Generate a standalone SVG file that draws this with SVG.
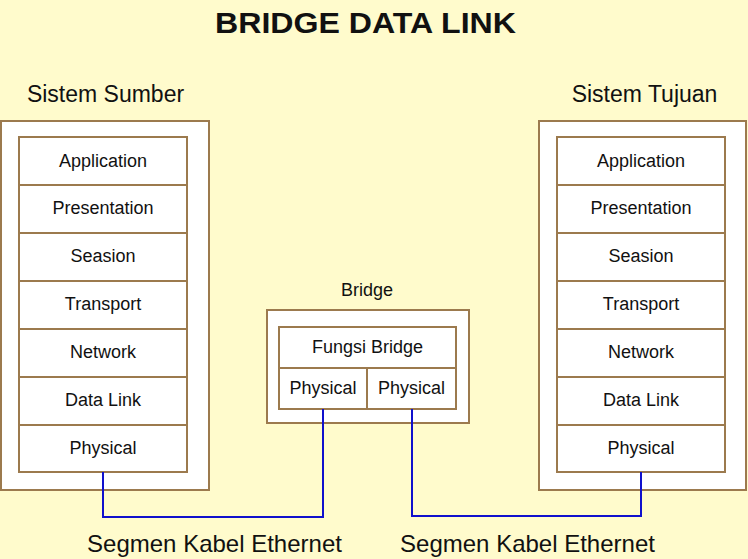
<svg xmlns="http://www.w3.org/2000/svg" width="748" height="559" viewBox="0 0 748 559">
<style>
.box{fill:#ffffff;stroke:#9c7a4e;stroke-width:2}
.cell{fill:#ffffff;stroke:#9c7a4e;stroke-width:2}
.t{font-family:"Liberation Sans",Arial,sans-serif;fill:#111111;text-anchor:middle}
.l{font-size:18px}
.h{font-size:23px}
.wire{fill:none;stroke:#1010cc;stroke-width:2}
</style>
<rect width="748" height="559" fill="#fffbcc"/>
<text class="t" x="365.5" y="33" font-size="29" font-weight="bold" textLength="301" lengthAdjust="spacingAndGlyphs">BRIDGE DATA LINK</text>
<text class="t h" x="105.5" y="102">Sistem Sumber</text>
<text class="t h" x="644.5" y="102">Sistem Tujuan</text>

<g id="sistem-sumber">
<rect class="box" x="1" y="121" width="208" height="369"/>
<rect class="cell" x="19" y="137" width="168" height="335"/>
<g stroke="#9c7a4e" stroke-width="2">
<line x1="19" y1="185" x2="187" y2="185"/><line x1="19" y1="233" x2="187" y2="233"/><line x1="19" y1="281" x2="187" y2="281"/><line x1="19" y1="329" x2="187" y2="329"/><line x1="19" y1="377" x2="187" y2="377"/><line x1="19" y1="425" x2="187" y2="425"/>
</g>
<text class="t l" x="103" y="167">Application</text>
<text class="t l" x="103" y="214">Presentation</text>
<text class="t l" x="103" y="262">Seasion</text>
<text class="t l" x="103" y="310">Transport</text>
<text class="t l" x="103" y="358">Network</text>
<text class="t l" x="103" y="406">Data Link</text>
<text class="t l" x="103" y="454">Physical</text>
</g>

<g id="sistem-tujuan">
<rect class="box" x="539" y="121" width="207" height="369"/>
<rect class="cell" x="557" y="137" width="168" height="335"/>
<g stroke="#9c7a4e" stroke-width="2">
<line x1="557" y1="185" x2="725" y2="185"/><line x1="557" y1="233" x2="725" y2="233"/><line x1="557" y1="281" x2="725" y2="281"/><line x1="557" y1="329" x2="725" y2="329"/><line x1="557" y1="377" x2="725" y2="377"/><line x1="557" y1="425" x2="725" y2="425"/>
</g>
<text class="t l" x="641" y="167">Application</text>
<text class="t l" x="641" y="214">Presentation</text>
<text class="t l" x="641" y="262">Seasion</text>
<text class="t l" x="641" y="310">Transport</text>
<text class="t l" x="641" y="358">Network</text>
<text class="t l" x="641" y="406">Data Link</text>
<text class="t l" x="641" y="454">Physical</text>
</g>

<g id="bridge">
<text class="t l" x="367" y="296">Bridge</text>
<rect class="box" x="267" y="310" width="202" height="113"/>
<rect class="cell" x="279" y="327" width="177" height="82"/>
<line x1="279" y1="368" x2="456" y2="368" stroke="#9c7a4e" stroke-width="2"/>
<line x1="367" y1="368" x2="367" y2="409" stroke="#9c7a4e" stroke-width="2"/>
<text class="t l" x="367.5" y="353">Fungsi Bridge</text>
<text class="t l" x="323" y="394">Physical</text>
<text class="t l" x="411.5" y="394">Physical</text>
</g>

<g id="connectors">
<polyline class="wire" points="103,472 103,517 323,517 323,409"/>
<polyline class="wire" points="412,409 412,516 641,516 641,472"/>
</g>

<text class="t" x="214.5" y="552" font-size="24">Segmen Kabel Ethernet</text>
<text class="t" x="527.5" y="552" font-size="24">Segmen Kabel Ethernet</text>
</svg>
